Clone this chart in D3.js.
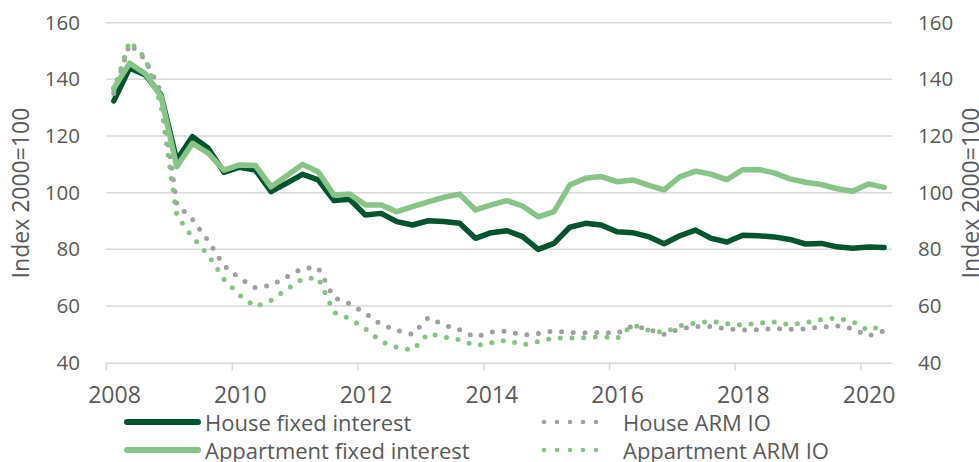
<!DOCTYPE html>
<html>
<head>
<meta charset="utf-8">
<script src="https://cdn.jsdelivr.net/npm/d3@7"></script>
<style>
  body { margin: 0; background: #fff; }
  svg text { font-family: "Open Sans", sans-serif; fill: #595959; }
</style>
</head>
<body>
<svg id="chart" width="979" height="462"></svg>
<script>
// quarterly categories
const quarters = [
  "2008Q1","2008Q2","2008Q3","2008Q4","2009Q1","2009Q2","2009Q3","2009Q4",
  "2010Q1","2010Q2","2010Q3","2010Q4","2011Q1","2011Q2","2011Q3","2011Q4",
  "2012Q1","2012Q2","2012Q3","2012Q4","2013Q1","2013Q2","2013Q3","2013Q4",
  "2014Q1","2014Q2","2014Q3","2014Q4","2015Q1","2015Q2","2015Q3","2015Q4",
  "2016Q1","2016Q2","2016Q3","2016Q4","2017Q1","2017Q2","2017Q3","2017Q4",
  "2018Q1","2018Q2","2018Q3","2018Q4","2019Q1","2019Q2","2019Q3","2019Q4",
  "2020Q1","2020Q2"
];

const houseFixed = [
  132.4, 144, 141.5, 134.5, 111.5, 119.8, 115.7, 107.2, 109, 108,
  100.4, 103.4, 106.5, 104.5, 97.2, 97.7, 92.1, 92.7, 89.8, 88.6,
  90.1, 89.8, 89.2, 83.9, 85.9, 86.6, 84.5, 80, 82.1, 87.8,
  89.2, 88.6, 86.2, 85.9, 84.5, 82, 84.8, 86.8, 83.9, 82.6,
  85, 84.8, 84.4, 83.5, 81.9, 82.1, 80.9, 80.4, 80.8, 80.7
];

const apartmentFixed = [
  136.9, 145.7, 142, 134, 109.2, 117.4, 114, 108, 109.8, 109.6,
  102.1, 106, 110, 107.4, 99.2, 99.5, 95.7, 95.7, 93.3, 95.1,
  96.8, 98.4, 99.5, 93.9, 95.7, 97.2, 95.3, 91.5, 93.3, 102.7,
  105.1, 105.7, 103.9, 104.5, 102.7, 101, 105.6, 107.6, 106.5, 104.6,
  108.1, 108.2, 107, 104.9, 103.7, 102.9, 101.4, 100.5, 103.1, 101.9
];

const houseArm = [
  135, 152.5, 147, 135.5, 96, 90.5, 83, 74.3, 69.8, 66.5,
  67.3, 70.3, 73.3, 73.5, 63, 60.8, 57.4, 53.5, 51.4, 50,
  55.9, 53.3, 51.6, 49, 50.8, 51.2, 49.7, 50.3, 51.2, 50.7,
  50.6, 50.7, 50.4, 53, 51.8, 50, 52, 52.8, 52.8, 52,
  51.5, 51.6, 52.1, 51.8, 51.9, 52.6, 53, 52, 49.5, 51.2
];

const apartmentArm = [
  136, 153.5, 147.5, 131, 92, 84.3, 78, 69.5, 63.8, 59.8,
  62, 65.9, 69.6, 70, 57.7, 55.6, 52, 47.5, 45.4, 44.4,
  50.3, 49, 48.1, 46, 47, 48, 46.3, 47.5, 48.8, 48.7,
  48.8, 49.2, 48.5, 53.3, 51.5, 50.7, 53, 54, 54.6, 53.8,
  53.3, 54, 54.4, 53.4, 54.1, 55.2, 55.8, 54.5, 51.3, 53.3
];

const yTicks = [40, 60, 80, 100, 120, 140, 160];
const xTicks = [2008, 2010, 2012, 2014, 2016, 2018, 2020];

const series = [
  { name: "House fixed interest", values: houseFixed, color: "#00552e", dotted: false },
  { name: "House ARM IO", values: houseArm, color: "#a0a0a0", dotted: true },
  { name: "Appartment fixed interest", values: apartmentFixed, color: "#88c488", dotted: false },
  { name: "Appartment ARM IO", values: apartmentArm, color: "#84c482", dotted: true }
];

const svg = d3.select("#chart");
const plotLeft = 106, plotRight = 892, plotTop = 22.7, plotBottom = 362.7;

// quarter label -> fractional year at middle of quarter
const qx = q => +q.slice(0, 4) + (+q.slice(5) - 1) / 4 + 0.125;

const x = d3.scaleLinear().domain([2008, 2020.5]).range([plotLeft, plotRight]);
const y = d3.scaleLinear().domain([40, 160]).range([plotBottom, plotTop]);

// gridlines
svg.append("g")
  .selectAll("line")
  .data(yTicks.filter(t => t > 40))
  .enter().append("line")
  .attr("x1", plotLeft).attr("x2", plotRight)
  .attr("y1", d => y(d)).attr("y2", d => y(d))
  .attr("stroke", "#d9d9d9").attr("stroke-width", 1.5);

// x axis
const xAxis = svg.append("g")
  .attr("transform", `translate(0,${plotBottom})`)
  .call(d3.axisBottom(x).tickValues(xTicks).tickFormat(d3.format("d")).tickSize(8).tickPadding(16).tickSizeOuter(0));
xAxis.select(".domain").attr("stroke", "#d9d9d9").attr("stroke-width", 1.5);
xAxis.selectAll(".tick line").attr("stroke", "#d9d9d9").attr("stroke-width", 1.5);
xAxis.selectAll("text").attr("dx", 8).style("font-size", "23px").style("font-family", "Open Sans").attr("fill", "#595959");

// y axes
const yLeft = svg.append("g")
  .attr("transform", `translate(${plotLeft},0)`)
  .call(d3.axisLeft(y).tickValues(yTicks).tickSize(0).tickPadding(26));
const yRight = svg.append("g")
  .attr("transform", `translate(${plotRight},0)`)
  .call(d3.axisRight(y).tickValues(yTicks).tickSize(0).tickPadding(26));
[yLeft, yRight].forEach(g => {
  g.select(".domain").remove();
  g.selectAll("text").style("font-size", "20.5px").style("font-family", "Open Sans").attr("fill", "#595959");
});

// axis titles
[20, 970].forEach(cx => {
  svg.append("text")
    .attr("transform", `translate(${cx},193) rotate(-90)`)
    .attr("text-anchor", "middle")
    .attr("dominant-baseline", "central")
    .style("font-size", "23px")
    .text("Index 2000=100");
});

// lines
const line = d3.line()
  .x((d, i) => x(qx(quarters[i])))
  .y(d => y(d));

series.forEach(s => {
  const p = svg.append("path")
    .datum(s.values)
    .attr("fill", "none")
    .attr("stroke", s.color)
    .attr("stroke-linejoin", "round")
    .attr("stroke-linecap", "round")
    .attr("d", line);
  if (s.dotted) {
    p.attr("stroke-width", 5).attr("stroke-dasharray", "0 11.7");
  } else {
    p.attr("stroke-width", 5.5);
  }
});

// legend
const legendPos = [
  { x1: 127, x2: 198, tx: 205, y: 422 },
  { x1: 544, x2: 609, tx: 623, y: 422 },
  { x1: 127, x2: 198, tx: 205, y: 450 },
  { x1: 544, x2: 609, tx: 623, y: 450 }
];
series.forEach((s, i) => {
  const L = legendPos[i];
  const g = svg.append("g");
  g.append("line")
    .attr("x1", L.x1).attr("x2", L.x2)
    .attr("y1", L.y).attr("y2", L.y)
    .attr("stroke", s.color)
    .attr("stroke-linecap", "round")
    .attr("stroke-width", s.dotted ? 4.5 : 6)
    .attr("stroke-dasharray", s.dotted ? "0 13" : null);
  g.append("text")
    .attr("x", L.tx).attr("y", L.y)
    .attr("dominant-baseline", "central")
    .style("font-size", "22px")
    .text(s.name);
});
</script>
</body>
</html>
